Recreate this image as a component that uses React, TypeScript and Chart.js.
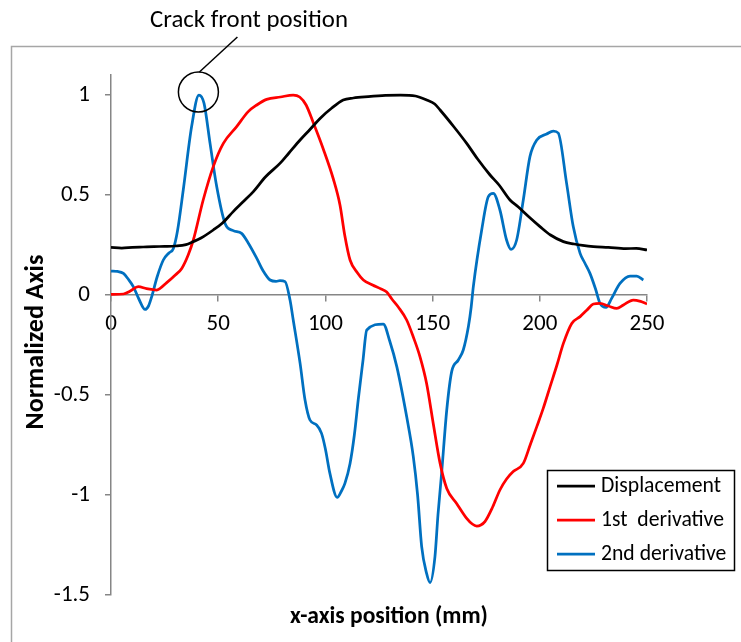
import React, { useEffect, useRef } from "react";
import { Chart, registerables } from "chart.js";

Chart.register(...registerables);

const FONT = "Carlito, Lato, sans-serif";

const seriesLabels = ["Displacement", "1st  derivative", "2nd derivative"];
const seriesColors = ["#000000", "#FF0000", "#0070C0"];

const xTicks = [0, 50, 100, 150, 200, 250];
const yTicks = [-1.5, -1, -0.5, 0, 0.5, 1];

const dispX = [0, 5, 10, 15, 20, 25, 30, 35, 38, 42, 47.7, 52, 57, 62, 66.4, 72, 78.8, 83, 88.2, 93, 97.5, 103, 108.3, 113, 120, 128, 135, 142, 147.2, 151, 153.5, 160, 165.9, 171, 176.8, 181, 186.1, 190, 195, 200.1, 205, 211, 216, 220, 225, 232, 240, 245, 250];
const dispY = [0.238, 0.235, 0.238, 0.24, 0.242, 0.243, 0.245, 0.252, 0.265, 0.285, 0.325, 0.36, 0.417, 0.47, 0.517, 0.59, 0.658, 0.71, 0.775, 0.83, 0.883, 0.935, 0.975, 0.985, 0.992, 0.998, 1.0, 0.995, 0.975, 0.955, 0.925, 0.84, 0.758, 0.68, 0.6, 0.55, 0.475, 0.44, 0.39, 0.342, 0.3, 0.267, 0.255, 0.248, 0.242, 0.238, 0.232, 0.233, 0.225];

const d1X = [0, 5.8, 9, 12.7, 16.6, 21.3, 26, 30, 33, 36, 38.4, 43, 47.7, 52.4, 58.6, 64, 68, 72.6, 79, 85, 88, 91, 94.4, 99, 103.7, 106.8, 109, 111.5, 115, 117.7, 122, 126, 128.6, 131, 134, 137.9, 141, 144.1, 147.2, 150.3, 153.5, 156.6, 161.2, 165.9, 168.5, 170.6, 172.5, 174.4, 178, 181.4, 184.5, 187.6, 192.3, 195.5, 198.6, 201.6, 204.8, 208, 211, 214.9, 218.8, 222, 225, 228.1, 232, 235.9, 239, 243.6, 247, 250];
const d1Y = [0.003, 0.005, 0.02, 0.042, 0.032, 0.025, 0.062, 0.1, 0.133, 0.2, 0.275, 0.475, 0.642, 0.758, 0.842, 0.917, 0.95, 0.978, 0.99, 1.0, 0.99, 0.95, 0.86, 0.73, 0.58, 0.45, 0.3, 0.175, 0.11, 0.075, 0.05, 0.03, 0.015, -0.02, -0.06, -0.125, -0.21, -0.308, -0.442, -0.642, -0.842, -0.967, -1.042, -1.117, -1.145, -1.155, -1.15, -1.133, -1.06, -0.975, -0.92, -0.883, -0.842, -0.75, -0.658, -0.567, -0.458, -0.35, -0.242, -0.142, -0.108, -0.075, -0.045, -0.042, -0.055, -0.067, -0.05, -0.025, -0.032, -0.045];

const d2X = [0, 3, 5.8, 8, 10.4, 13, 15.9, 17.5, 19, 21.5, 24.4, 27, 29.1, 31, 33.7, 37.6, 41, 43.4, 46.2, 49.3, 53.2, 57, 60.9, 64, 68, 71, 74.2, 77, 78.8, 81.2, 83.5, 85, 88.2, 90.5, 92.8, 95.9, 98.2, 100, 102.1, 105.5, 107.5, 109.1, 111.5, 113.5, 115.3, 117.5, 119.3, 127, 130, 133.3, 137.9, 141, 143, 144.9, 147.2, 148.8, 151.1, 152.5, 154.2, 156.6, 158.9, 162, 164.3, 166.7, 168, 169, 172.9, 176, 178.3, 181.4, 184.5, 186.6, 189.2, 192.3, 195.4, 198.6, 203.2, 206.3, 208.6, 212.5, 215.6, 218.8, 221, 223.4, 226, 228.1, 230.9, 233.5, 237.4, 242.1, 245.2, 248.3];
const d2Y = [0.12, 0.118, 0.108, 0.08, 0.042, -0.02, -0.072, -0.055, -0.008, 0.09, 0.175, 0.21, 0.233, 0.32, 0.525, 0.842, 1.0, 0.958, 0.758, 0.542, 0.358, 0.322, 0.308, 0.26, 0.183, 0.12, 0.075, 0.068, 0.072, 0.067, -0.025, -0.125, -0.342, -0.525, -0.625, -0.65, -0.692, -0.77, -0.892, -1.012, -0.98, -0.942, -0.842, -0.7, -0.525, -0.33, -0.175, -0.145, -0.23, -0.358, -0.608, -0.808, -1.0, -1.258, -1.392, -1.438, -1.308, -1.1, -0.892, -0.575, -0.383, -0.325, -0.275, -0.158, -0.06, 0.042, 0.325, 0.492, 0.508, 0.425, 0.275, 0.228, 0.275, 0.475, 0.692, 0.775, 0.805, 0.82, 0.81, 0.558, 0.342, 0.208, 0.16, 0.108, 0.03, -0.042, -0.062, -0.017, 0.058, 0.095, 0.095, 0.075];

const annotationText = "Crack front position";
const annotationX = 41;
const annotationY = 1.0;
const xTitle = "x-axis position (mm)";
const yTitle = "Normalized Axis";

function zip(xs: number[], ys: number[]) {
  return xs.map((x, i) => ({ x, y: ys[i] }));
}

function fitFont(ctx: CanvasRenderingContext2D, text: string, weight: string, target: number) {
  ctx.font = `${weight} 100px ${FONT}`;
  const w = ctx.measureText(text).width;
  const size = (100 * target) / w;
  ctx.font = `${weight} ${size}px ${FONT}`;
  return size;
}

const decorPlugin = {
  id: "decor",
  beforeDraw(chart: any) {
    const ctx = chart.ctx as CanvasRenderingContext2D;
    ctx.save();
    ctx.fillStyle = "#ffffff";
    ctx.fillRect(0, 0, chart.width, chart.height);
    ctx.strokeStyle = "#a6a6a6";
    ctx.lineWidth = 1.5;
    ctx.beginPath();
    ctx.moveTo(11.5, chart.height + 5);
    ctx.lineTo(11.5, 46.5);
    ctx.lineTo(chart.width + 5, 46.5);
    ctx.stroke();
    ctx.restore();
  },
  afterDraw(chart: any) {
    const ctx = chart.ctx as CanvasRenderingContext2D;
    const xs = chart.scales.x;
    const ys = chart.scales.y;
    ctx.save();
    ctx.fillStyle = "#000";
    ctx.textAlign = "center";
    ctx.textBaseline = "alphabetic";

    // axis titles
    fitFont(ctx, xTitle, "bold", 198);
    ctx.fillText(xTitle, (chart.chartArea.left + chart.chartArea.right) / 2 + 10, 623);
    ctx.save();
    ctx.translate(43, 342);
    ctx.rotate(-Math.PI / 2);
    fitFont(ctx, yTitle, "bold", 175);
    ctx.fillText(yTitle, 0, 0);
    ctx.restore();

    // annotation
    const px = xs.getPixelForValue(annotationX);
    const py = ys.getPixelForValue(annotationY);
    ctx.strokeStyle = "#000";
    ctx.lineWidth = 1.5;
    ctx.beginPath();
    ctx.arc(px - 0.5, py - 3, 20, 0, Math.PI * 2);
    ctx.stroke();
    ctx.beginPath();
    ctx.moveTo(px + 0.5, py - 23);
    ctx.lineTo(px + 38.5, py - 58);
    ctx.stroke();
    fitFont(ctx, annotationText, "normal", 198);
    ctx.fillText(annotationText, 249, 27);

    // legend
    const lx = 547.5, ly = 470.5, lw = 187, lh = 100;
    ctx.fillStyle = "#fff";
    ctx.fillRect(lx, ly, lw, lh);
    ctx.strokeStyle = "#000";
    ctx.lineWidth = 1.5;
    ctx.strokeRect(lx, ly, lw, lh);
    const rowsY = [486, 520, 554];
    ctx.save();
    fitFont(ctx, "Displacement", "normal", 120);
    ctx.textAlign = "left";
    ctx.textBaseline = "middle";
    chart.data.datasets.forEach((ds: any, i: number) => {
      ctx.strokeStyle = ds.borderColor;
      ctx.lineWidth = 2.75;
      ctx.beginPath();
      ctx.moveTo(557, rowsY[i]);
      ctx.lineTo(595, rowsY[i]);
      ctx.stroke();
      ctx.fillStyle = "#000";
      ctx.fillText(ds.label, 601, rowsY[i] + 1);
    });
    ctx.restore();
    ctx.restore();
  },
};

export default function App() {
  const ref = useRef<HTMLCanvasElement | null>(null);
  useEffect(() => {
    document.body.style.margin = "0";
    document.body.style.overflow = "hidden";
    const canvas = ref.current!;
    const series = [zip(dispX, dispY), zip(d1X, d1Y), zip(d2X, d2Y)];
    const chart = new Chart(canvas, {
      type: "line",
      data: {
        datasets: series.map((data, i) => ({
          label: seriesLabels[i],
          data,
          borderColor: seriesColors[i],
          backgroundColor: seriesColors[i],
          borderWidth: 2.75,
          pointRadius: 0,
          cubicInterpolationMode: "monotone" as const,
          fill: false,
        })),
      },
      options: {
        responsive: false,
        animation: false,
        events: [],
        layout: { padding: { left: 0, top: 75, right: 94, bottom: 47 } },
        plugins: { legend: { display: false }, tooltip: { enabled: false } },
        scales: {
          x: {
            type: "linear",
            position: { y: 0 } as any,
            min: 0,
            max: 250,
            afterBuildTicks: (s: any) => {
              s.ticks = xTicks.map((v) => ({ value: v }));
            },
            ticks: {
              color: "#000",
              font: { family: FONT, size: 23 },
              padding: 9,
              callback: (v: any) => String(v),
              maxRotation: 0,
            },
            grid: { display: true, drawOnChartArea: false, drawTicks: true, tickLength: 6, color: "#868686", lineWidth: 1.5 },
            border: { display: true, color: "#868686", width: 1.5 },
          },
          y: {
            type: "linear",
            position: "left",
            min: -1.5,
            max: 1.1,
            afterBuildTicks: (s: any) => {
              s.ticks = yTicks.map((v) => ({ value: v }));
            },
            afterFit: (s: any) => {
              s.width = 111;
            },
            ticks: {
              color: "#000",
              font: { family: FONT, size: 23 },
              padding: 15,
              callback: (v: any) => String(v),
            },
            grid: { display: true, drawOnChartArea: false, drawTicks: true, tickLength: 6, color: "#868686", lineWidth: 1.5 },
            border: { display: true, color: "#868686", width: 1.5 },
          },
        },
      },
      plugins: [decorPlugin],
    });
    return () => chart.destroy();
  }, []);
  return <canvas ref={ref} width={741} height={642} style={{ display: "block" }} />;
}
